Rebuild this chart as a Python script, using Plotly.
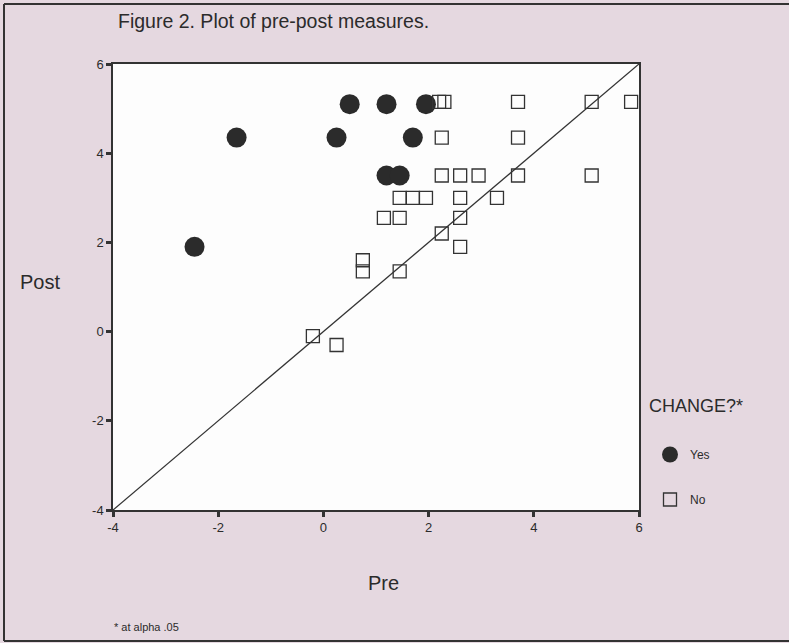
import plotly.graph_objects as go

# Changed significantly (Yes)
yes_pre = [-2.45, -1.65, 0.5, 1.2, 1.95, 0.25, 1.7, 1.2, 1.45]
yes_post = [1.9, 4.35, 5.1, 5.1, 5.1, 4.35, 4.35, 3.5, 3.5]

# Not changed (No)
no_pre = [2.2, 2.3, 3.7, 5.1, 5.85,
          2.25, 3.7,
          2.25, 2.6, 2.95, 3.7, 5.1,
          1.45, 1.7, 1.95, 2.6, 3.3,
          1.15, 1.45, 2.6,
          2.25, 2.6, 1.45, 0.75, 0.75,
          -0.2, 0.25]
no_post = [5.15, 5.15, 5.15, 5.15, 5.15,
           4.35, 4.35,
           3.5, 3.5, 3.5, 3.5, 3.5,
           3.0, 3.0, 3.0, 3.0, 3.0,
           2.55, 2.55, 2.55,
           2.2, 1.9, 1.35, 1.6, 1.35,
           -0.1, -0.3]

diag = [-4, 6]
ticks = [-4, -2, 0, 2, 4, 6]
tick_labels = ["-4", "-2", "0", "2", "4", "6"]

BG = "#e5d8e0"
INK = "#2b2b2b"
FONT = "Liberation Sans, Arial, sans-serif"

L, R, T, B = 113, 150, 64, 133
PW, PH = 789 - L - R, 643 - T - B


def px_x(px):
    return (px - L) / PW


def px_y(py):
    return (643 - B - py) / PH


fig = go.Figure()
fig.add_trace(go.Scatter(x=diag, y=diag, mode="lines", line=dict(color="#333", width=1.3),
                         showlegend=False, hoverinfo="skip"))
fig.add_trace(go.Scatter(x=yes_pre, y=yes_post, mode="markers", name="Yes", legendgroup="yes",
                         marker=dict(symbol="circle", size=20, color=INK, line=dict(width=0))))
fig.add_trace(go.Scatter(x=no_pre, y=no_post, mode="markers", name="No", legendgroup="no",
                         marker=dict(symbol="square-open", size=13, color="#333", line=dict(width=1.3))))

axis_common = dict(range=[-4, 6], tickvals=ticks, ticktext=tick_labels, ticks="outside",
                   ticklen=5, tickwidth=2.5, tickcolor="#333", showgrid=False, zeroline=False,
                   showline=True, linecolor="#333", linewidth=1.5, mirror=True,
                   tickfont=dict(family=FONT, size=13, color=INK))

fig.update_layout(
    width=789, height=643,
    margin=dict(l=L, r=R, t=T, b=B),
    paper_bgcolor=BG, plot_bgcolor="#fdfdfd",
    font=dict(family=FONT, color=INK),
    title=dict(text="Figure 2. Plot of pre-post measures.", x=118 / 789, xanchor="left",
               y=1 - 21 / 643, yanchor="middle", font=dict(size=19.5, color=INK, family=FONT)),
    xaxis=axis_common,
    yaxis=axis_common,
    showlegend=True,
    legend=dict(x=px_x(650), xanchor="left", y=px_y(440), yanchor="top",
                bgcolor="rgba(0,0,0,0)", font=dict(size=12, color=INK, family=FONT),
                tracegroupgap=26, itemsizing="trace"),
    annotations=[
        dict(text="CHANGE?*", xref="paper", yref="paper", x=px_x(647), y=px_y(406),
             xanchor="left", yanchor="middle", showarrow=False,
             font=dict(size=18, color=INK, family=FONT)),
        dict(text="Post", xref="paper", yref="paper", x=px_x(40), y=px_y(282),
             xanchor="center", yanchor="middle", showarrow=False,
             font=dict(size=20, color=INK, family=FONT)),
        dict(text="Pre", xref="paper", yref="paper", x=px_x(383), y=px_y(583),
             xanchor="center", yanchor="middle", showarrow=False,
             font=dict(size=20, color=INK, family=FONT)),
        dict(text="* at alpha .05", xref="paper", yref="paper", x=px_x(112), y=px_y(627),
             xanchor="left", yanchor="middle", showarrow=False,
             font=dict(size=11, color=INK, family=FONT)),
    ],
    shapes=[
        dict(type="line", xref="paper", yref="paper", x0=px_x(4), x1=px_x(4),
             y0=px_y(641), y1=px_y(4), line=dict(color="#333", width=2)),
        dict(type="line", xref="paper", yref="paper", x0=px_x(4), x1=px_x(789),
             y0=px_y(4), y1=px_y(4), line=dict(color="#333", width=2)),
        dict(type="line", xref="paper", yref="paper", x0=px_x(4), x1=px_x(789),
             y0=px_y(641), y1=px_y(641), line=dict(color="#333", width=2)),
    ],
)

fig.write_html("out.html", config={"displayModeBar": False},
               post_script="document.body.style.margin='0';document.body.style.background='%s';" % BG)
